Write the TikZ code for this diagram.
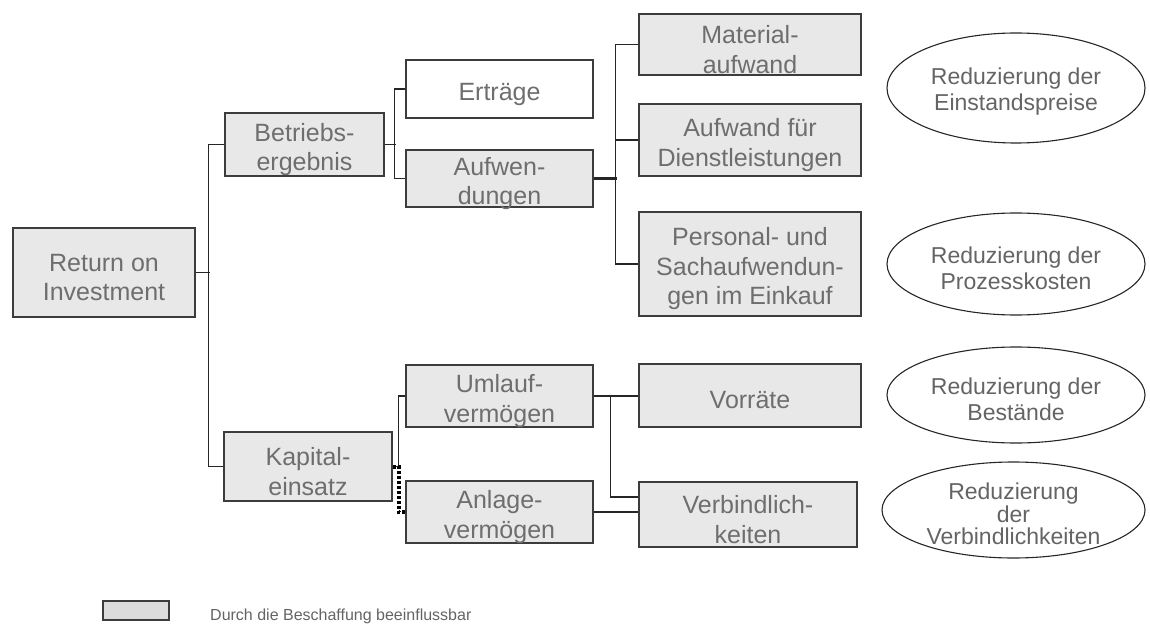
\documentclass[tikz,border=0pt]{standalone}
\usepackage{fontspec}
\setmainfont{Liberation Sans}
\usetikzlibrary{shapes.geometric,calc}
\definecolor{boxfill}{HTML}{E8E8E8}
\definecolor{boxline}{HTML}{3C3C3C}
\definecolor{txt}{HTML}{6E6E6E}
\definecolor{etxt}{HTML}{646464}
\tikzset{
  x=1pt,y=-1pt,
  box/.style={draw=boxline,line width=1.3pt,fill=boxfill,rectangle,inner sep=0pt},
  boxtext/.style={align=center,text=txt,font=\fontsize{25}{29.5}\selectfont,inner sep=0pt},
  oval/.style={draw=black!85,line width=1.1pt,ellipse,inner sep=0pt},
  ovaltext/.style={align=center,text=etxt,font=\fontsize{23}{26}\selectfont,inner sep=0pt},
  conn/.style={draw=black!85,line width=1.3pt},
  thickconn/.style={draw=black!85,line width=2.2pt},
  dotconn/.style={draw=black,line width=4pt,dash pattern=on 3pt off 2pt},
}
% #1 name, #2 options, #3 position, #4 text
\newcommand{\mybox}[4]{%
  \node[box,#2] (#1) at (#3) {};
  \node[boxtext] (#1-t) at ($(#1.center)+(0,5)$) {#4};}
\begin{document}
\begin{tikzpicture}
\useasboundingbox (0,0) rectangle (1150,628);
% boxes
\mybox{roi}{minimum width=182pt,minimum height=89pt}{104,272.5}{Return on\\Investment}
\mybox{betr}{minimum width=159pt,minimum height=63pt}{304.5,144.5}{Betriebs-\\ergebnis}
\mybox{kap}{minimum width=168pt,minimum height=69pt}{308,466.5}{Kapital-\\einsatz}
\mybox{ertr}{fill=white,minimum width=187pt,minimum height=58pt}{499.5,89}{Erträge}
\mybox{aufw}{minimum width=187pt,minimum height=57pt}{499.5,178.5}{Aufwen-\\dungen}
\mybox{uml}{minimum width=187pt,minimum height=62pt}{499.5,396}{Umlauf-\\vermögen}
\mybox{anl}{minimum width=187pt,minimum height=62pt}{499.5,512}{Anlage-\\vermögen}
\mybox{mat}{minimum width=222pt,minimum height=61pt}{750,44.5}{Material-\\aufwand}
\mybox{dl}{minimum width=222pt,minimum height=72pt}{750,140}{Aufwand für\\Dienstleistungen}
\mybox{pers}{minimum width=222pt,minimum height=104pt}{750,264}{Personal- und\\Sachaufwendun-\\gen im Einkauf}
\mybox{vor}{minimum width=222pt,minimum height=63pt}{750,395.5}{Vorräte}
\mybox{verb}{minimum width=218pt,minimum height=65pt}{748,514.5}{Verbindlich-\\keiten}
% ellipses
\node[oval,minimum width=258pt,minimum height=110pt] (e1) at (1016,88) {};
\node[ovaltext] (t1) at ($(e1.center)+(0,4)$) {Reduzierung der\\Einstandspreise};
\node[oval,minimum width=258pt,minimum height=102pt] (e2) at (1016,264) {};
\node[ovaltext] (t2) at ($(e2.center)+(0,4)$) {Reduzierung der\\Prozesskosten};
\node[oval,minimum width=258pt,minimum height=96pt] (e3) at (1016,395) {};
\node[ovaltext] (t3) at ($(e3.center)+(0,4)$) {Reduzierung der\\Bestände};
\node[oval,minimum width=263pt,minimum height=96pt] (e4) at (1013.5,510) {};
\node[ovaltext,font=\fontsize{23}{22.5}\selectfont] (t4) at ($(e4.center)+(0,4)$) {Reduzierung\\der\\Verbindlichkeiten};
% connectors
\draw[conn] (roi.east) -- ++(14,0);
\draw[conn] (betr.west) -- ++(-16,0) |- (kap.west);
\draw[conn] (betr.east) -- ++(11,0);
\draw[conn] (ertr.west) -- ++(-11,0) |- (aufw.west);
\draw[thickconn] (aufw.east) -- ++(23,0);
\draw[conn] (mat.west) -- ++(-23,0) |- (pers.west);
\draw[conn] (dl.west) -- ++(-23,0);
\draw[conn] (kap.east) -- ++(6,0) |- (uml.west);
\draw[dotconn] (kap.east) -- ++(6,0) |- (anl.west);
\draw[thickconn] (uml.east) -- ++(17,0);
\draw[conn] (uml.east) -- (uml.east -| vor.west);
\coordinate (vin) at ($(verb.west)+(0,-17.5)$);
\draw[conn] (uml.east) -- ++(17,0) |- (vin);
\draw[conn] (anl.east) -- (anl.east -| verb.west);
% legend
\node[box,fill=boxfill!95!black,minimum width=66pt,minimum height=19pt,line width=1.1pt] (leg) at (136,610.5) {};
\node[anchor=base west,text=etxt,font=\fontsize{16}{18}\selectfont,inner sep=0pt] (legt) at (210,620) {Durch die Beschaffung beeinflussbar};
\end{tikzpicture}
\end{document}
